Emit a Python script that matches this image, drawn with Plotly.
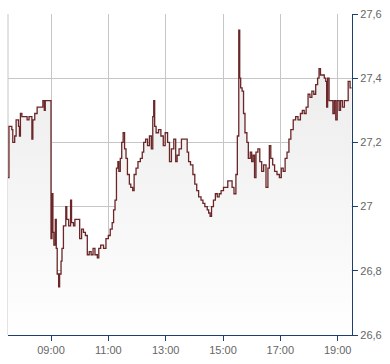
import plotly.graph_objects as go

day = "2024-01-02 "
times = ["07:30","07:32","07:38","07:40","07:44","07:47","07:52","07:54","07:56","07:59",
         "08:05","08:10","08:14","08:20","08:22","08:26","08:31","08:40","08:43","08:46",
         "08:48","08:58","09:00","09:02","09:04","09:06","09:09","09:11","09:13","09:16",
         "09:18","09:21","09:23","09:26","09:31","09:33","09:37","09:41","09:43","09:47",
         "09:50","09:56","10:00","10:04","10:08","10:12","10:16","10:20","10:24","10:28",
         "10:32","10:37","10:40","10:44","10:50","10:55","11:00","11:04","11:08","11:11",
         "11:14","11:17","11:20","11:22","11:25","11:28","11:31","11:34","11:37","11:40",
         "11:44","11:47","11:51","11:54","11:58","12:02","12:07","12:11","12:14","12:18",
         "12:22","12:26","12:30","12:33","12:35","12:37","12:40","12:45","12:50","12:55",
         "12:59","13:04","13:08","13:12","13:17","13:21","13:24","13:28","13:33","13:40",
         "13:45","13:48","13:52","13:57","14:01","14:05","14:09","14:14","14:18","14:22",
         "14:27","14:30","14:33","14:36","14:40","14:44","14:48","14:52","14:56","15:01",
         "15:06","15:10","15:15","15:19","15:23","15:27","15:30","15:33","15:35","15:37",
         "15:40","15:43","15:46","15:50","15:53","15:57","16:00","16:03","16:06","16:09",
         "16:13","16:17","16:21","16:25","16:30","16:34","16:37","16:40","16:44","16:48",
         "16:53","16:58","17:02","17:06","17:10","17:14","17:18","17:22","17:27","17:32",
         "17:37","17:42","17:46","17:50","17:54","17:58","18:02","18:06","18:10","18:14",
         "18:18","18:21","18:24","18:28","18:32","18:35","18:37","18:39","18:42","18:46",
         "18:50","18:53","18:56","18:59","19:03","19:06","19:10","19:14","19:20","19:22",
         "19:26","19:29"]
prices = [27.09,27.25,27.24,27.20,27.22,27.27,27.25,27.22,27.29,27.28,
          27.28,27.27,27.28,27.21,27.27,27.29,27.31,27.31,27.33,27.30,
          27.33,27.33,26.90,27.04,26.92,26.88,26.96,26.87,26.79,26.75,
          26.79,26.83,26.87,26.94,27.00,26.96,26.94,27.02,26.95,26.94,
          26.96,26.96,26.90,26.93,26.92,26.91,26.85,26.86,26.85,26.87,
          26.85,26.84,26.87,26.88,26.87,26.90,26.91,26.93,26.95,26.99,
          27.02,27.12,27.14,27.11,27.15,27.20,27.23,27.18,27.15,27.10,
          27.07,27.06,27.05,27.10,27.12,27.14,27.15,27.17,27.20,27.21,
          27.19,27.22,27.18,27.28,27.33,27.25,27.23,27.24,27.22,27.19,
          27.23,27.20,27.14,27.18,27.21,27.14,27.16,27.18,27.21,27.21,
          27.17,27.14,27.13,27.10,27.07,27.05,27.03,27.02,27.01,27.00,
          26.99,26.98,26.97,27.00,27.02,27.04,27.03,27.04,27.05,27.06,
          27.06,27.08,27.08,27.06,27.04,27.10,27.22,27.55,27.40,27.37,
          27.36,27.29,27.23,27.20,27.15,27.17,27.14,27.16,27.09,27.17,
          27.18,27.14,27.11,27.13,27.06,27.12,27.19,27.15,27.13,27.11,
          27.10,27.09,27.12,27.11,27.15,27.17,27.21,27.24,27.27,27.28,
          27.27,27.29,27.30,27.29,27.31,27.35,27.34,27.36,27.35,27.38,
          27.40,27.43,27.41,27.41,27.40,27.39,27.31,27.40,27.33,27.33,
          27.29,27.33,27.27,27.33,27.30,27.33,27.31,27.33,27.33,27.39,
          27.37,27.37]
x_ticks = ["09:00","11:00","13:00","15:00","17:00","19:00"]
y_ticks = [26.6, 26.8, 27.0, 27.2, 27.4, 27.6]

xs = [day + t for t in times]

fig = go.Figure()
fig.add_trace(go.Scatter(
    x=xs, y=prices, mode="lines",
    line=dict(color="#6b2628", width=1.3, shape="hv"),
    fill="tozeroy",
    fillgradient=dict(type="vertical", start=26.6, stop=27.5,
                      colorscale=[[0, "#ffffff"], [1, "#ebebeb"]]),
    hoverinfo="skip", showlegend=False,
))

axis_col = "#1c3f6e"
grid_col = "#c6c6c6"
font = dict(family="Liberation Sans, Arial, sans-serif", size=11, color="#666666")

fig.update_layout(
    width=390, height=364,
    margin=dict(l=8, r=38, t=11, b=26),
    paper_bgcolor="white", plot_bgcolor="white",
    separators=",.",
    font=font,
    xaxis=dict(
        type="date",
        range=[day + "07:30", day + "19:30"],
        tickvals=[day + t for t in x_ticks],
        ticktext=x_ticks,
        showgrid=True, gridcolor=grid_col, gridwidth=1,
        showline=True, linecolor=axis_col, linewidth=1.2,
        ticks="outside", ticklen=5, tickcolor=axis_col, tickwidth=1,
        zeroline=False, fixedrange=True,
    ),
    yaxis=dict(
        side="right",
        range=[26.6, 27.6],
        tickvals=y_ticks,
        showgrid=True, gridcolor=grid_col, gridwidth=1,
        showline=True, linecolor=axis_col, linewidth=1.2,
        ticks="outside", ticklen=5, tickcolor=axis_col, tickwidth=1,
        zeroline=False, fixedrange=True,
    ),
    shapes=[
        dict(type="line", xref="paper", yref="paper", x0=0, x1=0, y0=0, y1=1,
             line=dict(color=grid_col, width=1), layer="below"),
    ],
)

fig.write_html("out.html")
